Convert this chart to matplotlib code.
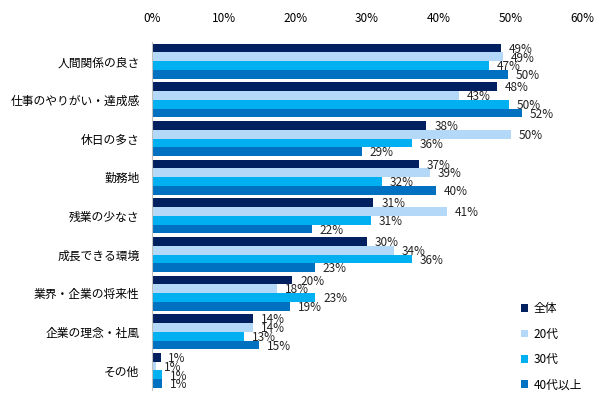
import numpy as np
import matplotlib
matplotlib.use('Agg')
import matplotlib.pyplot as plt

plt.rcParams['font.family'] = ['Noto Sans CJK JP', 'DejaVu Sans']

# データ
categories = ['人間関係の良さ', '仕事のやりがい・達成感', '休日の多さ', '勤務地', '残業の少なさ',
              '成長できる環境', '業界・企業の将来性', '企業の理念・社風', 'その他']
series_names = ['全体', '20代', '30代', '40代以上']
zentai = [48.7, 48.2, 38.3, 37.3, 30.9, 30.0, 19.6, 14.1, 1.2]
age20 = [49.0, 42.8, 50.1, 38.8, 41.2, 33.8, 17.5, 14.1, 0.6]
age30 = [47.0, 49.8, 36.3, 32.1, 30.6, 36.3, 22.8, 12.9, 1.4]
age40 = [49.7, 51.6, 29.3, 39.6, 22.3, 22.7, 19.3, 15.0, 1.4]
colors = ['#002060', '#B4D9F8', '#00B0F0', '#0070C0']

fig = plt.figure(figsize=(6.03, 3.99), dpi=100)
ax = fig.add_axes([0.252, 0.023, 0.713, 0.872])

y = np.arange(len(categories))
h = 0.226
for k, vals in enumerate([zentai, age20, age30, age40]):
    pos = y + (k - 1.5) * h
    ax.barh(pos, vals, height=h, color=colors[k], label=series_names[k])
    for p, v in zip(pos, vals):
        ax.text(v + 1.1, p + 0.03, f'{v:.0f}%', va='center', ha='left', fontsize=8.5,
                color='#222222')

ax.set_xlim(0, 60)
ax.set_ylim(len(categories) - 0.5, -0.5)
ax.xaxis.tick_top()
ax.set_xticks(range(0, 61, 10))
ax.set_xticklabels([f'{t}%' for t in range(0, 61, 10)], fontsize=8.5)
ax.set_yticks(y)
ax.set_yticklabels(categories, fontsize=8.5)
ax.tick_params(axis='y', length=0, pad=9)
ax.tick_params(axis='x', length=0, pad=12)
for s in ['top', 'right', 'bottom']:
    ax.spines[s].set_visible(False)
ax.spines['left'].set_color('#BFBFBF')

leg = ax.legend(loc='lower right', bbox_to_anchor=(1.025, -0.035), frameon=False, fontsize=8.5,
                handlelength=0.6, handleheight=0.6, labelspacing=1.05, handletextpad=0.5)

fig.savefig('out.png', dpi=100)
